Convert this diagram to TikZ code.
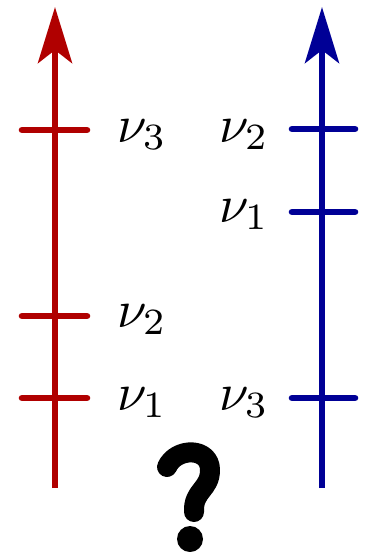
\documentclass[tikz,border=0pt]{standalone}
\usetikzlibrary{arrows.meta}
\definecolor{myred}{RGB}{176,0,0}
\definecolor{myblue}{RGB}{0,0,150}
\begin{document}
\begin{tikzpicture}[x=0.5pt,y=-0.5pt,
  axis/.style={line width=3.3pt,-{Stealth[length=28pt,width=17pt,inset=6.5pt]}},
  tick/.style={line width=3.3pt,line cap=round},
  lab/.style={anchor=base west,inner sep=0pt,scale=2.65}]
\useasboundingbox (0,0) rectangle (365,552);
% red axis
\coordinate (r0) at (55,488);
\coordinate (r1) at (55,7);
\draw[axis,myred] (r0) -- (r1);
\coordinate (ra1) at (22,130); \coordinate (rb1) at (87,130);
\coordinate (ra2) at (22,316); \coordinate (rb2) at (87,316);
\coordinate (ra3) at (22,398); \coordinate (rb3) at (87,398);
\draw[tick,myred] (ra1) -- (rb1);
\draw[tick,myred] (ra2) -- (rb2);
\draw[tick,myred] (ra3) -- (rb3);
\node[lab] (l3) at (116,142) {$\nu_3$};
\node[lab] (l2) at (116,327) {$\nu_2$};
\node[lab] (l1) at (116,410) {$\nu_1$};
% blue axis
\coordinate (b0) at (322,488);
\coordinate (b1) at (322,7);
\draw[axis,myblue] (b0) -- (b1);
\coordinate (ba1) at (292,129); \coordinate (bb1) at (355,129);
\coordinate (ba2) at (292,212); \coordinate (bb2) at (355,212);
\coordinate (ba3) at (292,398); \coordinate (bb3) at (355,398);
\draw[tick,myblue] (ba1) -- (bb1);
\draw[tick,myblue] (ba2) -- (bb2);
\draw[tick,myblue] (ba3) -- (bb3);
\node[lab] (m2) at (218,142) {$\nu_2$};
\node[lab] (m1) at (218,222) {$\nu_1$};
\node[lab] (m3) at (218,410) {$\nu_3$};
% question mark
\draw[line width=10pt,line cap=round,line join=round]
  (167,467) .. controls (176,447) and (210,447) .. (210,470)
  .. controls (210,490) and (193,490) .. (194,512);
\fill (190,539) circle (6.5pt);
\end{tikzpicture}
\end{document}
